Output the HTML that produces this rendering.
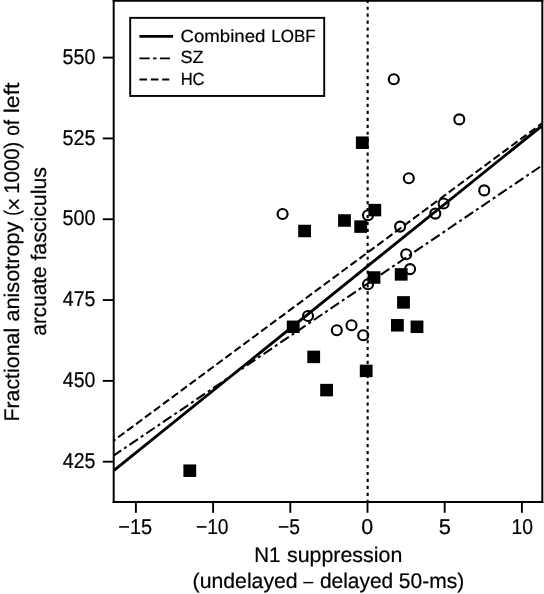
<!DOCTYPE html>
<html><head><meta charset="utf-8"><title>chart</title>
<style>
html,body{margin:0;padding:0;background:#fff;}
svg{display:block;}
text{font-family:"Liberation Sans",sans-serif;fill:#000;stroke:#000;stroke-linejoin:round;text-rendering:geometricPrecision;font-kerning:none;}
g.t{will-change:opacity;}
</style></head><body>
<svg width="544" height="594" viewBox="0 0 544 594">
<rect x="0" y="0" width="544" height="594" fill="#fff"/>
<line x1="367.65" y1="-0.3" x2="367.65" y2="501" stroke="#000" stroke-width="2.1" stroke-dasharray="3.2 3.744"/>
<g fill="none" stroke="#000">
<line x1="114" y1="440.4" x2="542" y2="123.3" stroke-width="2.05" stroke-dasharray="7.7 3.42" stroke-dashoffset="5.9"/>
<line x1="114" y1="455.3" x2="542" y2="165.5" stroke-width="2.05" stroke-dasharray="10.3 3.47 3.0 3.47" stroke-dashoffset="1.6"/>
<line x1="114" y1="470.3" x2="542" y2="125.75" stroke-width="2.9"/>
</g>
<g fill="#000">
<rect x="183.40" y="464.45" width="12.8" height="12.5"/>
<rect x="355.90" y="136.45" width="12.8" height="12.5"/>
<rect x="298.20" y="224.75" width="12.8" height="12.5"/>
<rect x="338.10" y="214.25" width="12.8" height="12.5"/>
<rect x="354.30" y="220.35" width="12.8" height="12.5"/>
<rect x="368.40" y="203.85" width="12.8" height="12.5"/>
<rect x="367.60" y="271.25" width="12.8" height="12.5"/>
<rect x="394.80" y="268.15" width="12.8" height="12.5"/>
<rect x="397.10" y="296.15" width="12.8" height="12.5"/>
<rect x="391.00" y="319.05" width="12.8" height="12.5"/>
<rect x="410.60" y="320.55" width="12.8" height="12.5"/>
<rect x="286.80" y="320.55" width="12.8" height="12.5"/>
<rect x="307.30" y="350.65" width="12.8" height="12.5"/>
<rect x="359.80" y="364.65" width="12.8" height="12.5"/>
<rect x="320.20" y="383.85" width="12.8" height="12.5"/>
</g>
<g fill="none" stroke="#000" stroke-width="2.1">
<circle cx="393.8" cy="79.3" r="5.0"/>
<circle cx="459.3" cy="119.4" r="5.0"/>
<circle cx="408.8" cy="178.3" r="5.0"/>
<circle cx="484.2" cy="190.4" r="5.0"/>
<circle cx="443.6" cy="203.5" r="5.0"/>
<circle cx="435.3" cy="213.6" r="5.0"/>
<circle cx="400.1" cy="226.6" r="5.0"/>
<circle cx="368.0" cy="215.3" r="5.0"/>
<circle cx="282.6" cy="214.0" r="5.0"/>
<circle cx="406.2" cy="254.2" r="5.0"/>
<circle cx="410.1" cy="269.1" r="5.0"/>
<circle cx="368.0" cy="284.2" r="5.0"/>
<circle cx="308.0" cy="316.0" r="5.0"/>
<circle cx="336.8" cy="330.3" r="5.0"/>
<circle cx="351.5" cy="325.3" r="5.0"/>
<circle cx="363.2" cy="335.3" r="5.0"/>
</g>
<g stroke="#000" fill="none">
<line x1="112.7" y1="0.8" x2="543.3" y2="0.8" stroke-width="1.7"/>
<line x1="112.7" y1="501.9" x2="543.3" y2="501.9" stroke-width="2"/>
<line x1="113.7" y1="0" x2="113.7" y2="502.9" stroke-width="2"/>
<line x1="542.3" y1="0" x2="542.3" y2="502.9" stroke-width="2"/>
<line x1="102.8" y1="57.60" x2="113" y2="57.60" stroke-width="1.9"/>
<line x1="102.8" y1="138.42" x2="113" y2="138.42" stroke-width="1.9"/>
<line x1="102.8" y1="219.24" x2="113" y2="219.24" stroke-width="1.9"/>
<line x1="102.8" y1="300.06" x2="113" y2="300.06" stroke-width="1.9"/>
<line x1="102.8" y1="380.88" x2="113" y2="380.88" stroke-width="1.9"/>
<line x1="102.8" y1="461.70" x2="113" y2="461.70" stroke-width="1.9"/>
<line x1="135.90" y1="502" x2="135.90" y2="512.8" stroke-width="1.9"/>
<line x1="213.10" y1="502" x2="213.10" y2="512.8" stroke-width="1.9"/>
<line x1="290.30" y1="502" x2="290.30" y2="512.8" stroke-width="1.9"/>
<line x1="367.50" y1="502" x2="367.50" y2="512.8" stroke-width="1.9"/>
<line x1="444.70" y1="502" x2="444.70" y2="512.8" stroke-width="1.9"/>
<line x1="521.90" y1="502" x2="521.90" y2="512.8" stroke-width="1.9"/>
</g>
<g class="t" stroke-width="0.22">
<text x="62.51" y="63.80" font-size="21.4" textLength="32.96" lengthAdjust="spacingAndGlyphs">550</text>
<text x="62.51" y="144.62" font-size="21.4" textLength="33.02" lengthAdjust="spacingAndGlyphs">525</text>
<text x="62.51" y="225.44" font-size="21.4" textLength="32.96" lengthAdjust="spacingAndGlyphs">500</text>
<text x="62.85" y="306.26" font-size="21.4" textLength="32.67" lengthAdjust="spacingAndGlyphs">475</text>
<text x="62.85" y="387.08" font-size="21.4" textLength="32.61" lengthAdjust="spacingAndGlyphs">450</text>
<text x="62.85" y="467.90" font-size="21.4" textLength="32.67" lengthAdjust="spacingAndGlyphs">425</text>
<text x="118.32" y="534.40" font-size="21.4" textLength="33.82" lengthAdjust="spacingAndGlyphs">−15</text>
<text x="195.95" y="534.40" font-size="21.4" textLength="32.60" lengthAdjust="spacingAndGlyphs">−10</text>
<text x="278.05" y="534.40" font-size="21.4" textLength="21.96" lengthAdjust="spacingAndGlyphs">−5</text>
<text x="361.36" y="534.40" font-size="21.4" textLength="11.98" lengthAdjust="spacingAndGlyphs">0</text>
<text x="438.82" y="534.40" font-size="21.4" textLength="12.20" lengthAdjust="spacingAndGlyphs">5</text>
<text x="511.43" y="534.40" font-size="21.4" textLength="21.53" lengthAdjust="spacingAndGlyphs">10</text>
</g>
<rect x="130.2" y="17.85" width="194.0" height="78.1" fill="#fff" stroke="#000" stroke-width="1.9"/>
<g stroke="#000" fill="none">
<line x1="139.4" y1="36.4" x2="173.1" y2="36.4" stroke-width="2.6"/>
<line x1="139.4" y1="58.35" x2="170" y2="58.35" stroke-width="1.9" stroke-dasharray="10.3 3.4 3.4 3.4"/>
<line x1="139.4" y1="79.5" x2="169.3" y2="79.5" stroke-width="1.9" stroke-dasharray="7.7 3.7"/>
</g>
<g class="t" stroke-width="0.2">
<text x="180.45" y="42.10" font-size="17.6" textLength="84.95" lengthAdjust="spacingAndGlyphs">Combined</text>
<text x="271.31" y="42.10" font-size="17.6" textLength="44.37" lengthAdjust="spacingAndGlyphs">LOBF</text>
<text x="180.48" y="63.40" font-size="17.6" textLength="23.19" lengthAdjust="spacingAndGlyphs">SZ</text>
<text x="180.64" y="85.30" font-size="17.6" textLength="24.00" lengthAdjust="spacingAndGlyphs">HC</text>
</g>
<g class="t" stroke-width="0.22">
<text x="254.22" y="561.50" font-size="21.2" textLength="26.18" lengthAdjust="spacingAndGlyphs">N1</text>
<text x="287.00" y="561.50" font-size="21.2" textLength="115.28" lengthAdjust="spacingAndGlyphs">suppression</text>
<text x="192.58" y="587.70" font-size="21.2" textLength="105.09" lengthAdjust="spacingAndGlyphs">(undelayed</text>
<text x="303.20" y="587.90" font-size="21.2" textLength="10.01" lengthAdjust="spacingAndGlyphs" stroke-width="0">–</text>
<text x="319.92" y="587.70" font-size="21.2" textLength="73.23" lengthAdjust="spacingAndGlyphs">delayed</text>
<text x="398.86" y="587.70" font-size="21.2" textLength="65.45" lengthAdjust="spacingAndGlyphs">50-ms)</text>
<text transform="translate(19.20,421.55) rotate(-90)" font-size="21.2" textLength="93.68" lengthAdjust="spacingAndGlyphs">Fractional</text>
<text transform="translate(19.20,321.52) rotate(-90)" font-size="21.2" textLength="99.86" lengthAdjust="spacingAndGlyphs">anisotropy</text>
<text transform="translate(19.20,215.73) rotate(-90)" font-size="21.2" textLength="5.53" lengthAdjust="spacingAndGlyphs">(</text>
<text stroke-width="0" transform="translate(21.80,210.92) rotate(-90)" font-size="24" textLength="13.62" lengthAdjust="spacingAndGlyphs">×</text>
<text transform="translate(19.20,193.75) rotate(-90)" font-size="21.2" textLength="52.12" lengthAdjust="spacingAndGlyphs">1000)</text>
<text transform="translate(19.20,135.80) rotate(-90)" font-size="21.2" textLength="15.98" lengthAdjust="spacingAndGlyphs">of</text>
<text transform="translate(19.20,113.36) rotate(-90)" font-size="21.2" textLength="30.83" lengthAdjust="spacingAndGlyphs">left</text>
<text transform="translate(45.70,335.68) rotate(-90)" font-size="21.2" textLength="69.31" lengthAdjust="spacingAndGlyphs">arcuate</text>
<text transform="translate(45.70,260.60) rotate(-90)" font-size="21.2" textLength="93.57" lengthAdjust="spacingAndGlyphs">fasciculus</text>
</g>
</svg>
</body></html>
